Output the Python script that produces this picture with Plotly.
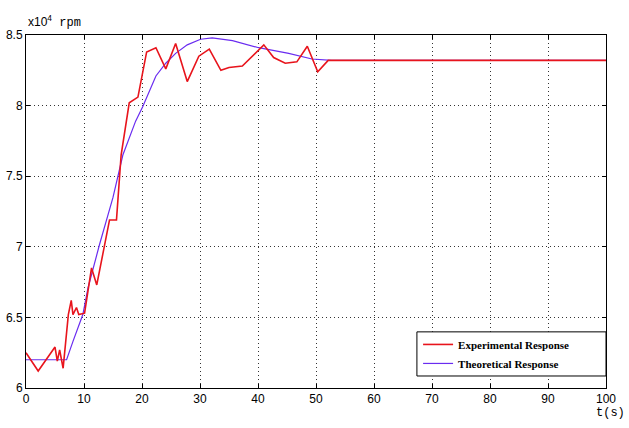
import plotly.graph_objects as go

# Experimental response (x10^4 rpm)
t_exp = [0, 2.1, 5.0, 5.4, 5.8, 6.1, 6.4, 7.3, 7.8, 8.1, 8.7, 9.1, 9.8, 10.1,
         11.3, 12.2, 14.4, 15.6, 16.4, 17.8, 19.3, 20.8, 22.4, 24.1, 25.8, 27.8,
         29.8, 31.6, 33.6, 35.0, 37.3, 41.0, 42.7, 44.7, 46.7, 48.5, 50.3, 52.1, 100]
y_exp = [6.25, 6.12, 6.29, 6.19, 6.27, 6.19, 6.14, 6.52, 6.62, 6.52, 6.57, 6.52, 6.53, 6.53,
         6.85, 6.73, 7.19, 7.19, 7.65, 8.02, 8.06, 8.38, 8.41, 8.26, 8.44, 8.17,
         8.35, 8.40, 8.25, 8.27, 8.28, 8.43, 8.34, 8.30, 8.31, 8.42, 8.24, 8.32, 8.32]

# Theoretical response (x10^4 rpm)
t_th = [0, 7.0, 8.1, 9.8, 10.7, 12.7, 15.0, 16.7, 18.9, 20.1, 22.4, 24.1, 25.8,
        27.8, 30.1, 32.1, 35.6, 40.1, 45.3, 49.3, 52.7, 100]
y_th = [6.2, 6.2, 6.33, 6.52, 6.71, 7.02, 7.35, 7.65, 7.89, 7.99, 8.21, 8.30, 8.37,
        8.43, 8.47, 8.48, 8.46, 8.41, 8.37, 8.33, 8.32, 8.32]

x_ticks = [0, 10, 20, 30, 40, 50, 60, 70, 80, 90, 100]
y_ticks = [6, 6.5, 7, 7.5, 8, 8.5]
y_tick_labels = ["6", "6.5", "7", "7.5", "8", "8.5"]

tick_font = dict(family="Liberation Sans, Arial, sans-serif", size=12, color="black")
mono_font = dict(family="Liberation Mono, DejaVu Sans Mono, monospace", size=12, color="black")

fig = go.Figure()
fig.add_trace(go.Scatter(x=t_th, y=y_th, mode="lines", name="<b>Theoretical Response</b>",
                         line=dict(color="#6a2cf0", width=1.2)))
fig.add_trace(go.Scatter(x=t_exp, y=y_exp, mode="lines", name="<b>Experimental Response</b>",
                         line=dict(color="#e8141c", width=1.6)))

axis_common = dict(showline=True, linecolor="black", linewidth=1, mirror="allticks",
                   ticks="inside", ticklen=4, tickcolor="black",
                   showgrid=True, gridcolor="#333333", griddash="1px,3px", gridwidth=1,
                   zeroline=False, tickfont=tick_font, automargin=False)

fig.update_xaxes(range=[0, 100], tickvals=x_ticks, **axis_common)
fig.update_yaxes(range=[6, 8.5], tickvals=y_ticks, ticktext=y_tick_labels, **axis_common)

fig.add_annotation(xref="paper", yref="paper", x=0, y=1, xanchor="left", yanchor="bottom",
                   yshift=3, showarrow=False,
                   text="<span style='font-family:Liberation Sans'>x10<sup>4</sup></span> rpm",
                   font=mono_font)
fig.add_annotation(xref="paper", yref="paper", x=1.036, y=0, xanchor="right", yanchor="top",
                   yshift=-16, showarrow=False, text="t(s)", font=mono_font)

# legend frame
fig.add_shape(type="rect", xref="paper", yref="paper", x0=0.674, x1=1.0, y0=0.034, y1=0.159,
              fillcolor="white", line=dict(color="black", width=1), layer="above")

fig.update_layout(
    width=629, height=428,
    margin=dict(l=26, r=23, t=35, b=40),
    paper_bgcolor="white", plot_bgcolor="white",
    showlegend=True,
    legend=dict(x=0.676, y=0.0965, xanchor="left", yanchor="middle",
                bgcolor="rgba(0,0,0,0)", borderwidth=0,
                traceorder="reversed",
                font=dict(family="Liberation Serif, Times New Roman, serif", size=11, color="black"),
                itemwidth=30, tracegroupgap=0),
)

fig.write_html("out.html", config={"displayModeBar": False},
               post_script="document.body.style.margin='0';document.body.style.overflow='hidden';")
